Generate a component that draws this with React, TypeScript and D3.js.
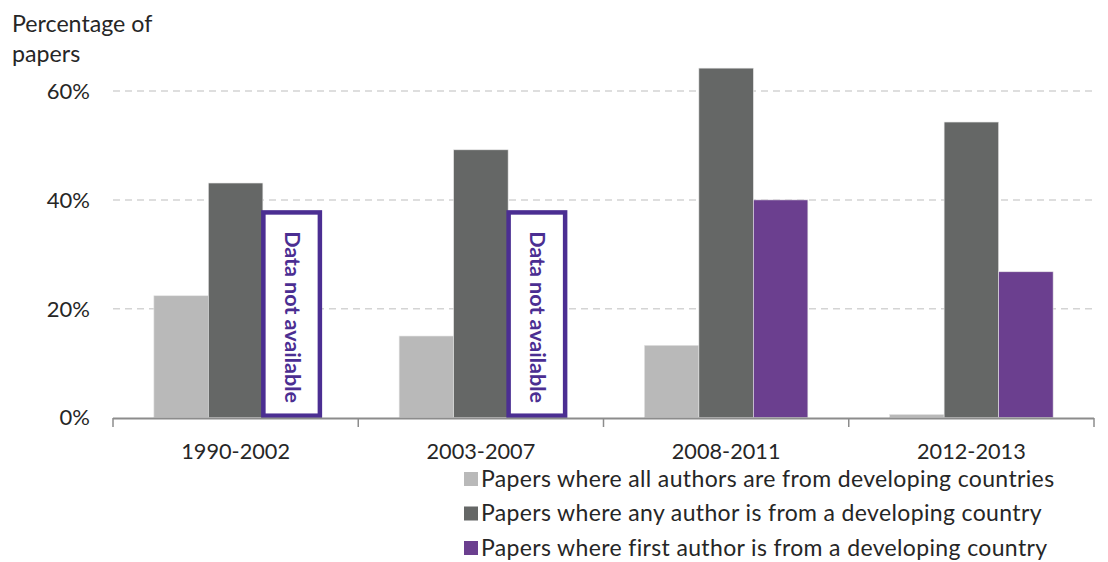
import React from "react";
import * as d3 from "d3";

const categories = ["1990-2002", "2003-2007", "2008-2011", "2012-2013"];
const allAuthors = [22.4, 15.0, 13.3, 0.6];
const anyAuthor = [43.1, 49.2, 64.2, 54.3];
const firstAuthor: (number | null)[] = [null, null, 40.0, 26.8];
const notAvailableLevel = 37.7;
const notAvailableText = "Data not available";
const yTicks = [0, 20, 40, 60];
const seriesNames = [
  "Papers where all authors are from developing countries",
  "Papers where any author is from a developing country",
  "Papers where first author is from a developing country",
];
const seriesColors = ["#b9b9b9", "#656766", "#6b3f8f"];
const boxColor = "#4b2e92";

const W = 1108;
const H = 562;
const FONT = "Lato, 'Open Sans', sans-serif";

export default function App() {
  const x = d3.scaleBand<string>().domain(categories).range([113, 1094]);
  const inner = d3
    .scaleBand<number>()
    .domain([0, 1, 2])
    .range([0, x.bandwidth()])
    .paddingOuter(0.75)
    .paddingInner(0);
  const y = d3.scaleLinear().domain([0, 60]).range([417.7, 91]);

  const series = [allAuthors, anyAuthor, firstAuthor];

  return (
    <div style={{ position: "absolute", left: 0, top: 0 }}>
      <svg width={W} height={H} style={{ display: "block", fontFamily: FONT }}>
        <rect width={W} height={H} fill="#fff" />
        {/* axis title */}
        <text x={12} y={32} fontSize={23.2} fill="#262626">
          Percentage of
        </text>
        <text x={12} y={62} fontSize={23.2} fill="#262626">
          papers
        </text>
        {/* gridlines */}
        {yTicks
          .filter((t) => t > 0)
          .map((t) => (
            <line
              key={t}
              x1={113}
              x2={1094}
              y1={y(t)}
              y2={y(t)}
              stroke="#d4d4d4"
              strokeWidth={1.5}
              strokeDasharray="7,5"
            />
          ))}
        {yTicks.map((t) => (
          <text
            key={t}
            x={90}
            y={y(t)}
            dy="0.35em"
            textAnchor="end"
            fontSize={22}
            fill="#262626"
          >
            {d3.format(".0%")(t / 100)}
          </text>
        ))}
        {/* bars */}
        {categories.map((c, ci) => (
          <g key={c} transform={`translate(${x(c)},0)`}>
            {series.map((s, si) => {
              const v = s[ci];
              const bx = inner(si)!;
              const bw = inner.bandwidth();
              if (v == null) {
                const top = y(notAvailableLevel);
                const bottom = y(0);
                const cx = bx + bw / 2;
                const cy = (top + bottom) / 2 + 2;
                return (
                  <g key={si}>
                    <rect
                      x={bx + 0.5}
                      y={top}
                      width={bw + 2}
                      height={bottom - top - 2}
                      fill="#fff"
                      stroke={boxColor}
                      strokeWidth={4.5}
                    />
                    <text
                      transform={`translate(${cx + 2},${cy}) rotate(90)`}
                      textAnchor="middle"
                      dy="0.35em"
                      fontSize={21.5}
                      fontWeight="bold"
                      fill={boxColor}
                    >
                      {notAvailableText}
                    </text>
                  </g>
                );
              }
              return (
                <rect
                  key={si}
                  x={bx}
                  y={y(v)}
                  width={bw}
                  height={y(0) - y(v)}
                  fill={seriesColors[si]}
                  stroke="#e6e6e6"
                  strokeWidth={0.6}
                />
              );
            })}
          </g>
        ))}
        {/* x axis */}
        <line x1={113} x2={1094} y1={418.5} y2={418.5} stroke="#8c8c8c" strokeWidth={2} />
        {[...categories.map((c) => x(c)!), 1094].map((t, i) => (
          <line key={i} x1={t} x2={t} y1={418} y2={427} stroke="#8c8c8c" strokeWidth={1.5} />
        ))}
        {categories.map((c) => (
          <text
            key={c}
            x={x(c)! + x.bandwidth() / 2}
            y={451}
            dy="0.35em"
            textAnchor="middle"
            fontSize={21.7}
            fill="#262626"
          >
            {c}
          </text>
        ))}
        {/* legend */}
        {seriesNames.map((n, i) => (
          <g key={n} transform={`translate(464,${479 + i * 34.5})`}>
            <rect x={0} y={-7} width={14} height={14} fill={seriesColors[i]} />
            <text
              x={17}
              y={0}
              dy="0.33em"
              fontSize={23}
              letterSpacing={0.36}
              fill="#262626"
            >
              {n}
            </text>
          </g>
        ))}
      </svg>
    </div>
  );
}
